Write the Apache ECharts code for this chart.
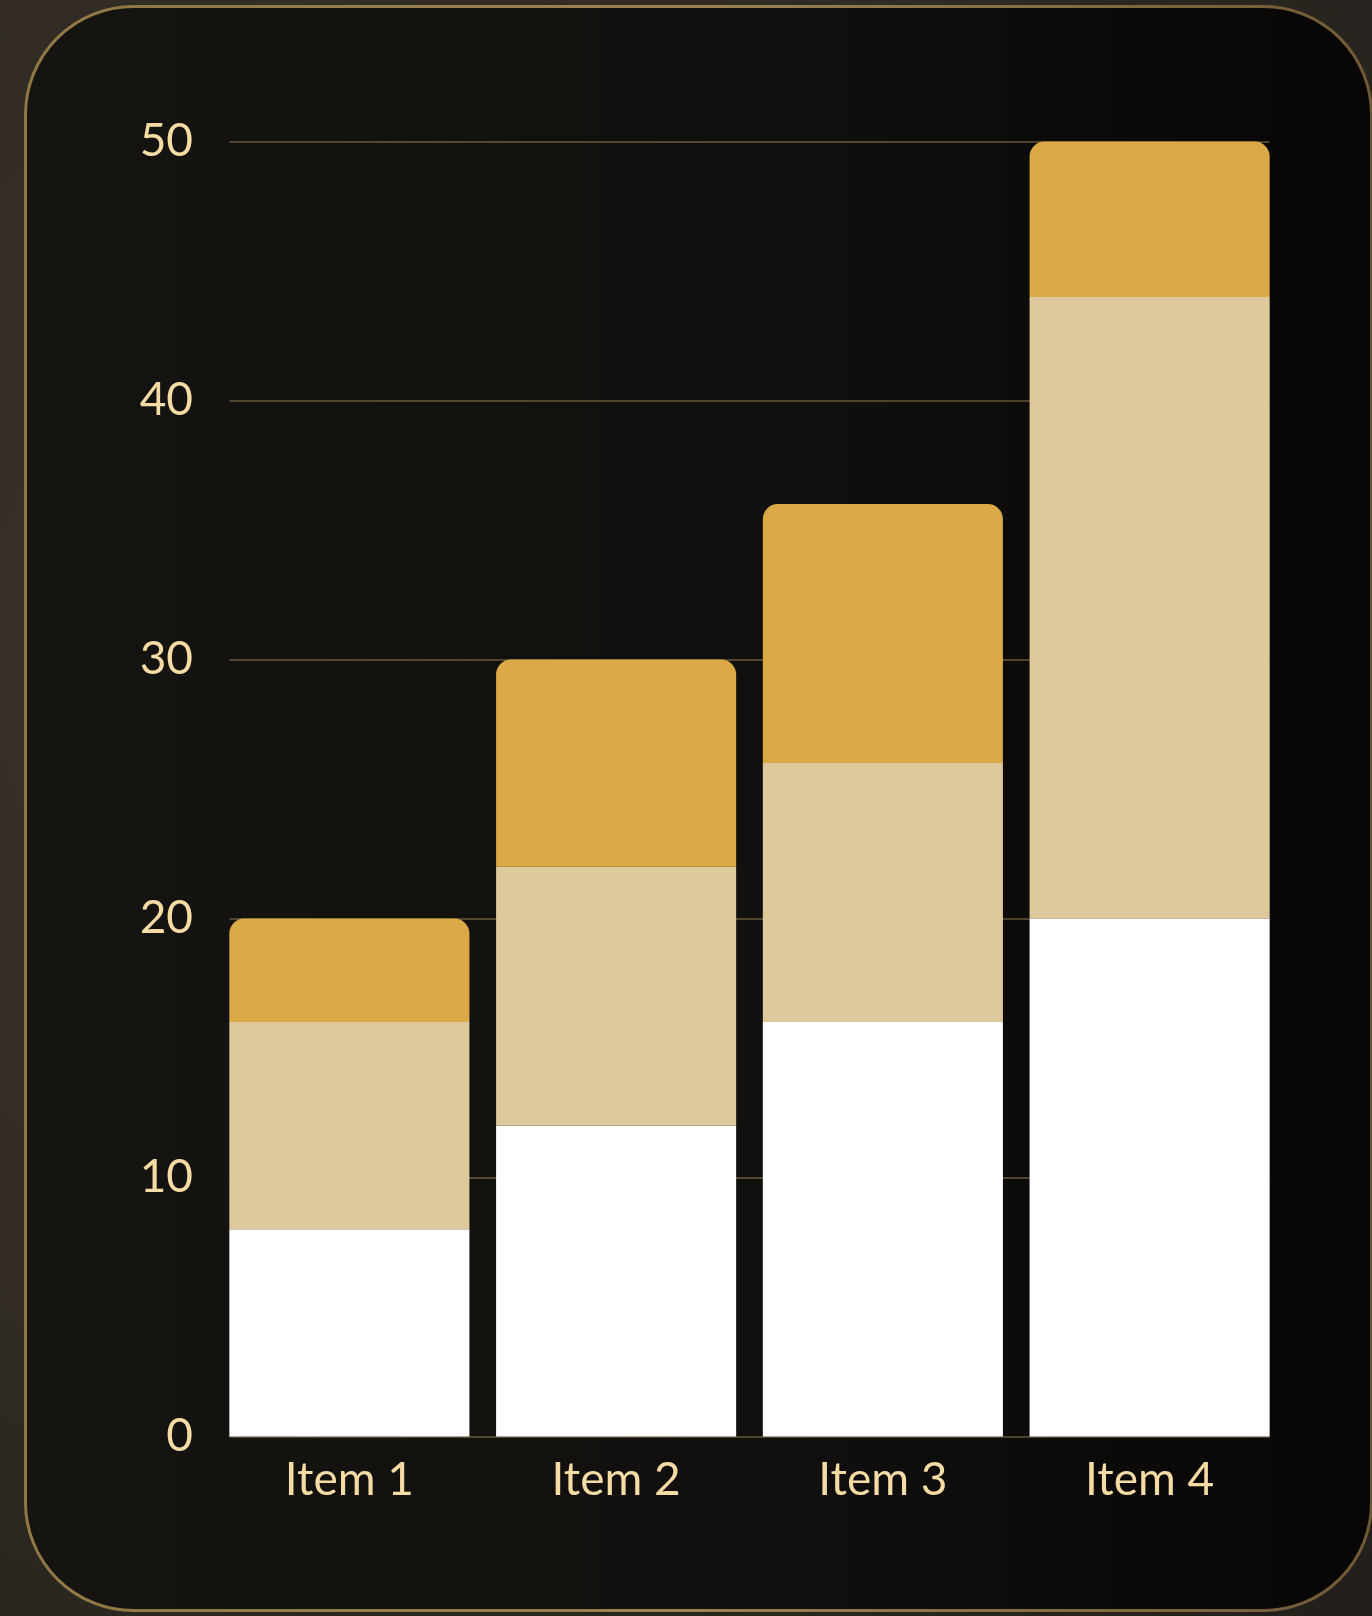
<!DOCTYPE html>
<html>
<head>
<meta charset="utf-8">
<script src="https://cdn.jsdelivr.net/npm/echarts@6/dist/echarts.min.js"></script>
<style>
html,body{margin:0;padding:0;}
body{width:1372px;height:1616px;background:radial-gradient(ellipse at 30% 40%, #3d372d 0%, #2f2a23 60%, #221f1a 100%);overflow:hidden;}
#chart{width:1372px;height:1616px;}
</style>
</head>
<body>
<div id="chart"></div>
<script>
const categories = ['Item 1', 'Item 2', 'Item 3', 'Item 4'];
const seriesBottom = [8, 12, 16, 20];
const seriesMiddle = [8, 10, 10, 24];
const seriesTop = [4, 8, 10, 6];
const yMin = 0, yMax = 50, yInterval = 10;

const labelColor = '#f5dca4';
const fontFamily = 'Lato, "Noto Sans", sans-serif';

const chart = echarts.init(document.getElementById('chart'));
chart.setOption({
  backgroundColor: 'transparent',
  animation: false,
  graphic: [{
    type: 'rect',
    z: -10,
    silent: true,
    shape: { x: 25.5, y: 6.5, width: 1346, height: 1604, r: 108 },
    style: {
      fill: new echarts.graphic.LinearGradient(0, 0, 1, 0, [
        { offset: 0, color: '#161411' },
        { offset: 0.6, color: '#110f0d' },
        { offset: 1, color: '#070605' }
      ]),
      stroke: new echarts.graphic.LinearGradient(0, 0, 1, 0, [
        { offset: 0, color: '#8f7746' },
        { offset: 0.5, color: '#9c8250' },
        { offset: 1, color: '#6e5a34' }
      ]),
      lineWidth: 3
    }
  }],
  grid: [
    { left: 216, right: 89, top: 141.5, bottom: 179.5 },
    { left: 229.5, right: 102.5, top: 141.5, bottom: 179.5 }
  ],
  xAxis: [
    {
      type: 'category', gridIndex: 0, data: categories,
      axisLine: { show: false }, axisTick: { show: false },
      axisLabel: { color: labelColor, fontSize: 46, fontFamily: fontFamily, margin: 21 }
    },
    { type: 'category', gridIndex: 1, data: categories, show: false }
  ],
  yAxis: [
    {
      type: 'value', gridIndex: 0, min: yMin, max: yMax, interval: yInterval,
      axisLine: { show: false }, axisTick: { show: false }, splitLine: { show: false },
      axisLabel: { color: labelColor, fontSize: 46, fontFamily: fontFamily, margin: 23 }
    },
    {
      type: 'value', gridIndex: 1, min: yMin, max: yMax, interval: yInterval,
      axisLine: { show: false }, axisTick: { show: false }, axisLabel: { show: false },
      splitLine: { show: true, lineStyle: { color: 'rgba(190,160,100,0.5)', width: 1.5 } }
    }
  ],
  series: [
    { type: 'bar', stack: 's', data: seriesBottom, barCategoryGap: '10%', itemStyle: { color: '#ffffff' } },
    { type: 'bar', stack: 's', data: seriesMiddle, barCategoryGap: '10%', itemStyle: { color: '#dec99c' } },
    { type: 'bar', stack: 's', data: seriesTop, barCategoryGap: '10%', itemStyle: { color: '#dba946', borderRadius: [15, 15, 0, 0] } }
  ]
});
</script>
</body>
</html>
